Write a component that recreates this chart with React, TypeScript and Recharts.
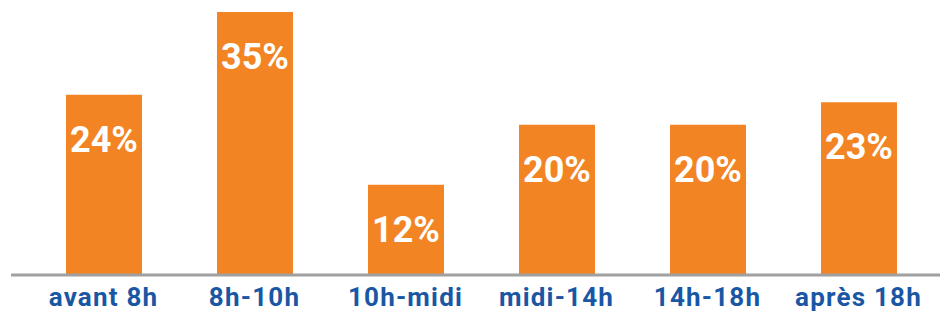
import { BarChart, Bar, XAxis, YAxis, LabelList } from 'recharts';

const categories = ['avant 8h', '8h-10h', '10h-midi', 'midi-14h', '14h-18h', 'après 18h'];
const shares = [24, 35, 12, 20, 20, 23];

const data = categories.map((slot, i) => ({ slot, share: shares[i] }));

const ORANGE = '#F28424';
const BLUE = '#1957A5';

// white % label near the top of each bar
function BarValue(props: any) {
  const { x, y, width, value } = props;
  return (
    <text
      x={x + width / 2}
      y={y + 57}
      textAnchor="middle"
      fill="#fff"
      fontFamily="Roboto, sans-serif"
      fontWeight={700}
      fontSize={36}
    >
      {value}%
    </text>
  );
}

export default function App() {
  return (
    <div style={{ position: 'absolute', left: 0, top: 0, width: 940, height: 315, background: '#fff' }}>
      <BarChart width={940} height={315} data={data} margin={{ top: 12, right: 0, bottom: 0, left: 11 }}>
        <XAxis
          dataKey="slot"
          height={40}
          padding={{ left: 17, right: 6 }}
          axisLine={{ stroke: '#A0A0A0', strokeWidth: 3 }}
          tickLine={false}
          tickSize={0}
          tickMargin={13}
          interval={0}
          tick={{ fill: BLUE, fontFamily: 'Roboto, sans-serif', fontWeight: 700, fontSize: 26, letterSpacing: 1.2 }}
        />
        <YAxis hide domain={[0, 35]} />
        <Bar dataKey="share" fill={ORANGE} barSize={76} isAnimationActive={false}>
          <LabelList dataKey="share" content={BarValue} />
        </Bar>
      </BarChart>
    </div>
  );
}
